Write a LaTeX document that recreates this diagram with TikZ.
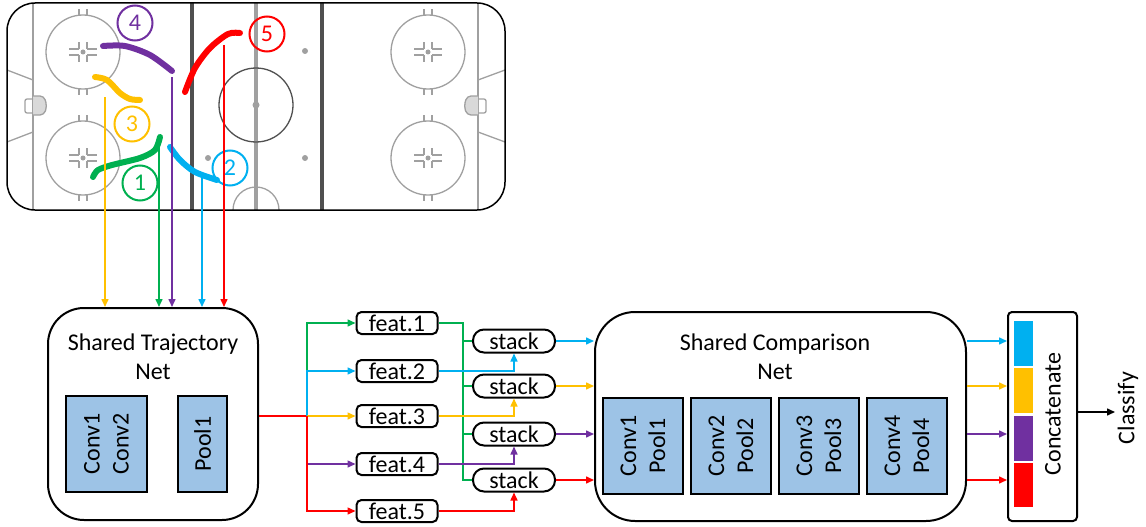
\documentclass[tikz,border=0pt]{standalone}
\usepackage{fontspec}
\setmainfont{Carlito}
\usetikzlibrary{arrows.meta,positioning}

\definecolor{vert}{HTML}{00B050}
\definecolor{bleu}{HTML}{00B0F0}
\definecolor{jaune}{HTML}{FFC000}
\definecolor{violet}{HTML}{7030A0}
\definecolor{rouge}{HTML}{FF0000}
\definecolor{bleucouche}{HTML}{9DC3E6}
\definecolor{grispiste}{HTML}{A0A0A0}
\definecolor{grisfonce}{HTML}{505050}

\tikzset{
  piste/.style={grispiste, line width=1.3pt},
  traj/.style={line width=6pt, line cap=round},
  numero/.style={circle, draw, line width=2pt, minimum size=35pt, inner sep=0pt},
  fil/.style={line width=1.5pt, -{Triangle[length=8pt,width=7pt]}},
  reseau/.style={draw, line width=2pt, rounded corners=36pt},
  couche/.style={draw, line width=1.5pt, fill=bleucouche, rotate=90, align=center, minimum width=96pt},
  feat/.style={draw, line width=2pt, rounded corners=5pt, minimum width=81pt, minimum height=22pt, inner sep=0pt},
  pile/.style={draw, line width=2pt, rounded corners=11pt, minimum width=82pt, minimum height=23pt, inner sep=0pt},
}

\begin{document}
\begin{tikzpicture}[x=1pt, y=-1pt, font=\fontsize{24}{29}\selectfont]
\useasboundingbox (0,0) rectangle (1146,527); % Pour la bounding box

% Patinoire
\begin{scope}
\clip[rounded corners=28pt] (7,3) rectangle (505,210);
\draw[piste] (33,3) -- (33,210) (478,3) -- (478,210);
\draw[piste] (33,80) -- (7,70) (33,132) -- (7,142) (478,80) -- (505,70) (478,132) -- (505,142);
\draw[piste] (256,210) circle (23pt);
\draw[grisfonce, line width=4pt] (192,3) -- (192,210) (322,3) -- (322,210);
\draw[grispiste, line width=4pt] (256,3) -- (256,210);
\end{scope}
\draw[grisfonce, line width=1.3pt] (256,105) circle (37pt);
\fill[grispiste] (256,105) circle (3.5pt) (208,158) circle (3pt) (305,51) circle (3pt) (305,158) circle (3pt);
\foreach \x in {83,428} \foreach \y in {52,158} {
  \draw[piste] (\x,\y) circle (37pt);
  \fill[grispiste] (\x,\y) circle (2.5pt);
  \foreach \s in {-1,1} {
    \draw[piste] ({\x+\s*4},{\y-3}) -- ({\x+\s*14},{\y-3}) ({\x+\s*4},{\y+3}) -- ({\x+\s*14},{\y+3});
    \draw[piste] ({\x+\s*4},{\y-3}) -- ({\x+\s*4},{\y-10}) ({\x+\s*4},{\y+3}) -- ({\x+\s*4},{\y+10});
    \draw[piste] ({\x+\s*4},{\y-37}) -- ({\x+\s*4},{\y-43}) ({\x+\s*4},{\y+37}) -- ({\x+\s*4},{\y+43});
  }
}
\draw[piste, fill=gray!30, rounded corners=4pt] (33,96) -- (44,96) -- (47,106) -- (44,115) -- (33,115);
\draw[piste, rounded corners=2pt] (33,99) -- (25,99) -- (25,113) -- (33,113);
\draw[piste, fill=gray!30, rounded corners=4pt] (478,96) -- (467,96) -- (464,106) -- (467,115) -- (478,115);
\draw[piste, rounded corners=2pt] (478,99) -- (486,99) -- (486,113) -- (478,113);
\draw[line width=1.5pt, rounded corners=28pt] (7,3) rectangle (505,210);

% Trajectoires
\draw[traj, violet] plot[smooth] coordinates {(103,46) (125,46) (150,55) (172,71)};
\draw[traj, jaune] plot[smooth] coordinates {(95,77) (107,80) (120,93) (130,99) (140,100)};
\draw[traj, vert] plot[smooth] coordinates {(93,177) (98,170) (112,165) (140,158) (155,150) (160,137)};
\draw[traj, bleu] plot[smooth] coordinates {(170,147) (180,160) (195,172) (217,180)};
\draw[traj, rouge] plot[smooth] coordinates {(185,92) (195,68) (210,48) (228,34) (240,33)};
\node[numero, vert, text=vert] (n1) at (140,183) {1};
\node[numero, bleu, text=bleu] (n2) at (230,168) {2};
\node[numero, jaune, text=jaune] (n3) at (132,124) {3};
\node[numero, violet, text=violet] (n4) at (135,23) {4};
\node[numero, rouge, text=rouge] (n5) at (267,34) {5};
\coordinate (d1) at (159,140);
\coordinate (d2) at (202,178);
\coordinate (d3) at (105,97);
\coordinate (d4) at (172,77);
\coordinate (d5) at (224,45);

% Shared Trajectory Net
\node[reseau, minimum width=210pt, minimum height=212pt] (traj) at (153,414) {};
\node[align=center] (trajtitre) at (153,357) {Shared Trajectory\\Net};
\node[couche, minimum height=81pt] (conv) at (106.5,444) {Conv1\\Conv2};
\node[couche, minimum height=49pt] (pool) at (202.5,444) {Pool1};
\foreach \i/\c in {1/vert,2/bleu,3/jaune,4/violet,5/rouge}
  \draw[fil, \c] (d\i) -- (d\i |- traj.north);

% feat et stack
\foreach \i/\y in {1/323,2/371,3/416,4/464,5/511}
  \node[feat] (f\i) at (397,\y) {feat.\i};
\foreach \i/\y in {1/341,2/386,3/434,4/480}
  \node[pile] (s\i) at (514,\y) {stack};
\coordinate (br) at (307,416);
\coordinate (bus) at (463,0);
\draw[rouge, line width=1.5pt] (traj.east |- br) -- (br);
\draw[fil, vert] (br) |- (f1.west);
\draw[fil, bleu] (br) |- (f2.west);
\draw[fil, jaune] (br) -- (f3.west);
\draw[fil, violet] (br) |- (f4.west);
\draw[fil, rouge] (br) |- (f5.west);
\draw[vert, line width=1.5pt] (f1.east) -| (bus |- s4.west) -- (s4.west);
\foreach \i in {1,2,3}
  \draw[vert, line width=1.5pt] (bus |- s\i.west) -- (s\i.west);
\draw[fil, bleu] (f2.east) -| (s1.south);
\draw[fil, jaune] (f3.east) -| (s2.south);
\draw[fil, violet] (f4.east) -| (s3.south);
\draw[fil, rouge] (f5.east) -| (s4.south);

% Shared Comparison Net
\node[reseau, rounded corners=40pt, minimum width=371pt, minimum height=209pt] (cnet) at (780.5,416.5) {};
\node[align=center] (cnettitre) at (775,357) {Shared Comparison\\Net};
\foreach \i/\x in {1/643,2/731,3/819,4/907}
  \node[couche, minimum height=80pt] (c\i) at (\x,446) {Conv\i\\Pool\i};

% Concatenate
\node[draw, line width=2pt, rounded corners=4pt, minimum width=69pt, minimum height=209pt] (cat) at (1042.5,416.5) {};
\fill[bleu] (1014,321) rectangle (1033,366);
\fill[jaune] (1014,368) rectangle (1033,413);
\fill[violet] (1014,416) rectangle (1033,461);
\fill[rouge] (1014,463) rectangle (1033,507);
\node[rotate=90] (cattexte) at (1053,414) {Concatenate};
\foreach \i/\c in {1/bleu,2/jaune,3/violet,4/rouge} {
  \draw[fil, \c] (s\i.east) -- (s\i.east -| cnet.west);
  \draw[fil, \c] (s\i.east -| cnet.east) -- (s\i.east -| cat.west);
}
\coordinate (fin) at (1115,412);
\draw[fil, black] (cat.east |- fin) -- (fin);
\node[rotate=90] (classe) at (1128,408) {Classify};
\end{tikzpicture}
\end{document}
